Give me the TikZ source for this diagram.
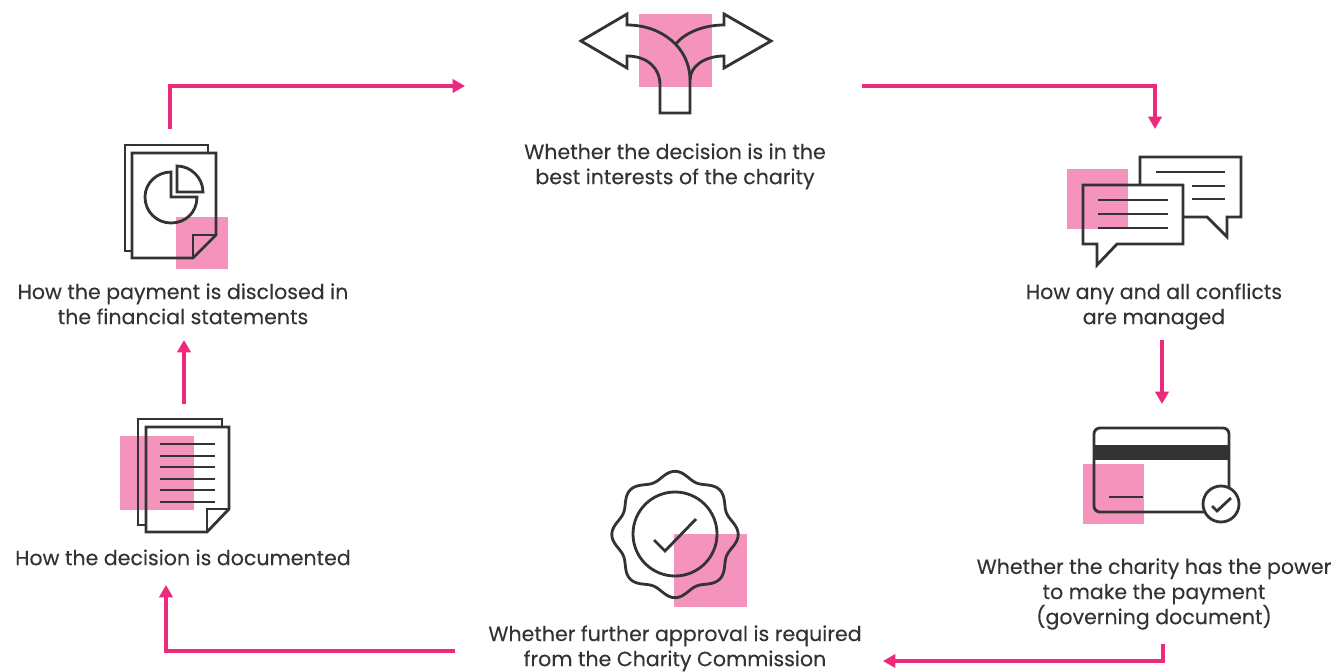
\documentclass[tikz,border=0pt]{standalone}
\usepackage{fontspec}
\setmainfont[FakeBold=0.22]{Poppins}
\usetikzlibrary{arrows.meta, positioning}
\definecolor{mypink}{RGB}{236,41,123}
\definecolor{mysquare}{RGB}{244,148,188}
\definecolor{myink}{RGB}{51,51,51}
\tikzset{
  flow/.style={draw=mypink, line width=2.3pt, -{Triangle[length=7pt,width=7.5pt]}},
  icon/.style={draw=myink, line width=1.6pt, line join=miter},
  patch/.style={fill=mysquare, draw=none},
  caption/.style={align=center, inner sep=0pt, anchor=south, text depth=0pt, text=myink, font=\fontsize{11.7}{14.3}\selectfont}
}
\begin{document}
\begin{tikzpicture}[x=0.02cm,y=-0.02cm]
\useasboundingbox (0,0) rectangle (1332,672);
% captions
\node[caption] (best) at (675,184.5) {Whether the decision is in the\\best interests of the charity};
\node[caption] (conflicts) at (1154,324.5) {How any and all conflicts\\are managed};
\node[caption] (power) at (1154,624.5) {Whether the charity has the power\\to make the payment\\(governing document)};
\node[caption] (approval) at (675,666.5) {Whether further approval is required\\from the Charity Commission};
\node[caption] (documented) at (183,565.5) {How the decision is documented};
\node[caption] (disclosed) at (183,324.5) {How the payment is disclosed in\\the financial statements};
% arrow ends
\coordinate (a1s) at (170,129); \coordinate (a1m) at (170,86); \coordinate (a1e) at (465,86);
\coordinate (a2s) at (862,86); \coordinate (a2m) at (1155,86); \coordinate (a2e) at (1155,129);
\coordinate (a3s) at (1162,340); \coordinate (a3e) at (1162,404);
\coordinate (a4s) at (1163,644); \coordinate (a4m) at (1163,661); \coordinate (a4e) at (883,661);
\coordinate (a5s) at (455,651); \coordinate (a5m) at (166,651); \coordinate (a5e) at (166,585);
\coordinate (a6s) at (184,404); \coordinate (a6e) at (184,340);
\draw[flow] (a1s) -- (a1m) -- (a1e);
\draw[flow] (a2s) -- (a2m) -- (a2e);
\draw[flow] (a3s) -- (a3e);
\draw[flow] (a4s) -- (a4m) -- (a4e);
\draw[flow] (a5s) -- (a5m) -- (a5e);
\draw[flow] (a6s) -- (a6e);
% split arrow
\fill[patch] (639,14) rectangle (712,87);
\draw[icon] (660,113) -- (660,85) .. controls (660,67) and (646,56) .. (627,56) -- (627,68) -- (581,41) -- (627,14) -- (627,25) .. controls (662,25) and (690,48) .. (690,80) -- (690,113) -- cycle;
\draw[icon] (675,45) .. controls (684,33) and (703,25) .. (724,25) -- (724,14) -- (771,41) -- (724,68) -- (724,56) .. controls (705,56) and (690,66) .. (690,80);
% speech bubbles
\fill[patch] (1067,169) rectangle (1128,229);
\draw[icon] (1140,185) -- (1140,157) -- (1241,157) -- (1241,217) -- (1227,217) -- (1227,237) -- (1207,217) -- (1183,217);
\draw[icon] (1156,172) -- (1225,172);
\draw[icon] (1192,186) -- (1225,186);
\draw[icon] (1192,199) -- (1225,199);
\draw[icon] (1083,185) -- (1183,185) -- (1183,244) -- (1117,244) -- (1097,265) -- (1097,244) -- (1083,244) -- cycle;
\draw[icon] (1098,200) -- (1168,200);
\draw[icon] (1098,214) -- (1168,214);
\draw[icon] (1098,228) -- (1168,228);
% card
\fill[patch] (1083,464) rectangle (1144,524);
\draw[icon, rounded corners=3.4pt] (1094,428) rectangle (1229,512);
\fill[myink] (1094,445) rectangle (1229,460);
\draw[icon] (1109,497) -- (1143,497);
\draw[icon, fill=white] (1221,504) circle[radius=18];
\draw[icon] (1212,506) -- (1217,511) -- (1231,498);
% badge
\fill[patch] (674,534) rectangle (747,607);
\draw[icon] plot[domain=0:360,samples=145,smooth] ({675+(59.5+3.7*cos(8*\x))*cos(\x)},{534.5+(59.5+3.7*cos(8*\x))*sin(\x)}) -- cycle;
\draw[icon] (675,534) circle[radius=42];
\draw[icon] (654,540) -- (665,551) -- (696,519);
% documents
\fill[patch] (120,436) rectangle (194,510);
\draw[icon] (222,427) -- (222,419) -- (138,419) -- (138,525) -- (146,525);
\draw[icon] (146,427) -- (229,427) -- (229,509) -- (207,532) -- (146,532) -- cycle;
\draw[icon] (207,532) -- (207,509) -- (229,509);
\foreach \ypos in {444,456,467,479,490,502}
  \draw[icon] (160,\ypos) -- (215,\ypos);
% report
\fill[patch] (176,217) rectangle (228,269);
\draw[icon] (208,153) -- (208,145) -- (125,145) -- (125,251) -- (132,251);
\draw[icon] (132,153) -- (216,153) -- (216,235) -- (193,258) -- (132,258) -- cycle;
\draw[icon] (193,258) -- (193,235) -- (216,235);
\draw[icon] (171,172) .. controls (157,172) and (145,183) .. (145,197) .. controls (145,212) and (157,223) .. (171,223) .. controls (186,223) and (197,212) .. (197,197) -- (171,197) -- cycle;
\draw[icon] (177,166) .. controls (191,166) and (203,178) .. (203,192) -- (177,192) -- cycle;
\end{tikzpicture}
\end{document}
